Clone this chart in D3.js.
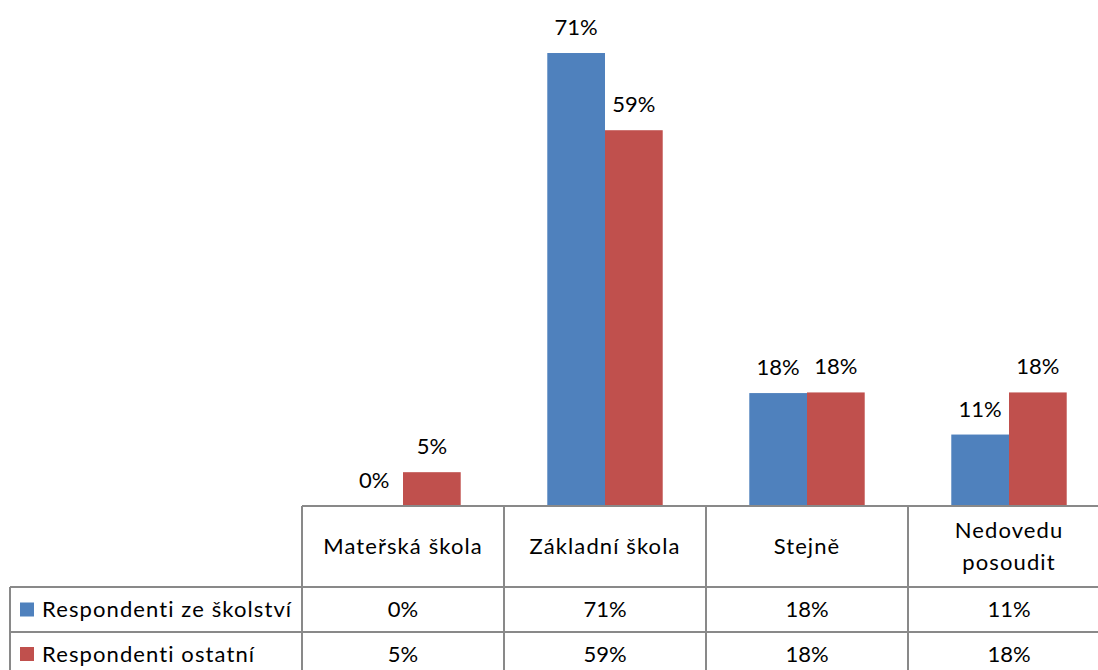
<!DOCTYPE html>
<html>
<head>
<meta charset="utf-8">
<script src="https://cdn.jsdelivr.net/npm/d3@7"></script>
<style>
  body { margin: 0; background: #fff; }
  svg text { font-family: Lato, "Liberation Sans", sans-serif; fill: #000; }
</style>
</head>
<body>
<svg id="chart" width="1098" height="670"></svg>
<script>
// data
var categories = ["Mateřská škola", "Základní škola", "Stejně", "Nedovedu posoudit"];
var headerLines = [["Mateřská škola"], ["Základní škola"], ["Stejně"], ["Nedovedu", "posoudit"]];
var seriesNames = ["Respondenti ze školství", "Respondenti ostatní"];
var schoolValues = [0, 71, 17.7, 11.2];
var otherValues = [5.3, 58.9, 17.8, 17.8];
var schoolLabels = ["0%", "71%", "18%", "11%"];
var otherLabels = ["5%", "59%", "18%", "18%"];
var colors = ["#4F81BD", "#C0504D"];

var svg = d3.select("#chart");

var baseY = 506;
var x0 = d3.scaleBand().domain(categories).range([302, 1110]);
var x1 = d3.scaleBand().domain(seriesNames).range([0, x0.bandwidth()]).paddingOuter(0.75);
var y = d3.scaleLinear().domain([0, 80]).range([baseY, baseY - 80 * 6.38]);

var series = [
  { name: seriesNames[0], values: schoolValues, labels: schoolLabels, color: colors[0] },
  { name: seriesNames[1], values: otherValues, labels: otherLabels, color: colors[1] }
];

// bars
series.forEach(function (s) {
  var g = svg.append("g");
  g.selectAll("rect")
    .data(categories)
    .enter()
    .append("rect")
    .attr("x", function (c) { return x0(c) + x1(s.name); })
    .attr("width", x1.bandwidth())
    .attr("y", function (c, i) { return y(s.values[i]); })
    .attr("height", function (c, i) { return baseY - y(s.values[i]); })
    .style("fill", s.color);

  // labels above bars
  g.selectAll("text")
    .data(categories)
    .enter()
    .append("text")
    .attr("x", function (c) { return x0(c) + x1(s.name) + x1.bandwidth() / 2; })
    .attr("y", function (c, i) { return y(s.values[i]) - 18; })
    .attr("text-anchor", "middle")
    .style("font-size", "22px")
    .text(function (c, i) { return s.labels[i]; });
});

// data table
var lineColor = "#898989";
var row1Y = 587, row2Y = 632, bottomY = 680;
var grid = svg.append("g").style("stroke", lineColor).style("stroke-width", 2);

grid.append("line").attr("x1", 302).attr("x2", 1110).attr("y1", baseY).attr("y2", baseY);
grid.append("line").attr("x1", 10).attr("x2", 1110).attr("y1", row1Y).attr("y2", row1Y);
grid.append("line").attr("x1", 10).attr("x2", 1110).attr("y1", row2Y).attr("y2", row2Y);
grid.append("line").attr("x1", 10).attr("x2", 10).attr("y1", row1Y).attr("y2", bottomY);
categories.forEach(function (c) {
  grid.append("line").attr("x1", x0(c)).attr("x2", x0(c)).attr("y1", baseY).attr("y2", bottomY);
});

// header cells
categories.forEach(function (c, i) {
  var lines = headerLines[i];
  var cy = (baseY + row1Y) / 2;
  lines.forEach(function (t, j) {
    svg.append("text")
      .attr("x", x0(c) + x0.bandwidth() / 2)
      .attr("y", cy + (j - (lines.length - 1) / 2) * 32)
      .attr("dy", "0.35em")
      .attr("text-anchor", "middle")
      .style("font-size", "22px")
      .style("letter-spacing", "1.1px")
      .text(t);
  });
});

// value rows with legend keys
var rowMid = [(row1Y + row2Y) / 2, (row2Y + 676) / 2];
series.forEach(function (s, r) {
  svg.append("rect")
    .attr("x", 20).attr("y", rowMid[r] - 7)
    .attr("width", 14).attr("height", 14)
    .style("fill", s.color);
  svg.append("text")
    .attr("x", 42).attr("y", rowMid[r])
    .attr("dy", "0.35em")
    .style("font-size", "22px")
    .style("letter-spacing", "1.1px")
    .text(s.name);
  categories.forEach(function (c, i) {
    svg.append("text")
      .attr("x", x0(c) + x0.bandwidth() / 2)
      .attr("y", rowMid[r])
      .attr("dy", "0.35em")
      .attr("text-anchor", "middle")
      .style("font-size", "22px")
      .text(s.labels[i]);
  });
});
</script>
</body>
</html>
